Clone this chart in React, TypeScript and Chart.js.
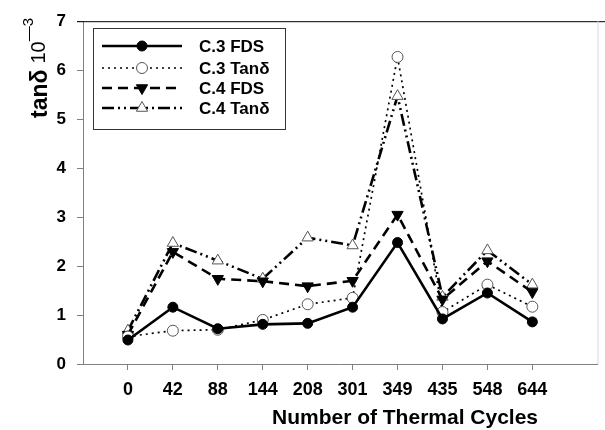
import React, { useEffect, useRef } from "react";
import { Chart, registerables } from "chart.js";

Chart.register(...registerables);

const cycles = ["0", "42", "88", "144", "208", "301", "349", "435", "548", "644"];
const c3Fds = [0.49, 1.16, 0.72, 0.81, 0.83, 1.16, 2.48, 0.92, 1.45, 0.86];
const c3Tan = [0.56, 0.68, 0.70, 0.90, 1.22, 1.35, 6.27, 1.06, 1.62, 1.17];
const c4Fds = [0.60, 2.29, 1.74, 1.69, 1.59, 1.70, 3.05, 1.32, 2.10, 1.47];
const c4Tan = [0.68, 2.47, 2.11, 1.74, 2.58, 2.42, 5.47, 1.37, 2.32, 1.62];
const yTicks = [0, 1, 2, 3, 4, 5, 6, 7];

const FONT = "'Liberation Sans', Arial, Helvetica, sans-serif";

type SeriesStyle = {
  label: string;
  data: number[];
  width: number;
  dash: number[];
  shape: "circle" | "triangle";
  rotation: number;
  fill: string;
  stroke: string;
  radius: number;
};

const series: SeriesStyle[] = [
  { label: "C.3 FDS", data: c3Fds, width: 2.6, dash: [], shape: "circle", rotation: 0, fill: "#000", stroke: "#000", radius: 5 },
  { label: "C.3 Tan\u03b4", data: c3Tan, width: 1.7, dash: [2, 4], shape: "circle", rotation: 0, fill: "#fff", stroke: "#555", radius: 5.5 },
  { label: "C.4 FDS", data: c4Fds, width: 2.6, dash: [10, 6], shape: "triangle", rotation: 180, fill: "#000", stroke: "#000", radius: 6.5 },
  { label: "C.4 Tan\u03b4", data: c4Tan, width: 2.6, dash: [12, 4, 2, 4, 2, 4], shape: "triangle", rotation: 0, fill: "#fff", stroke: "#555", radius: 6.5 },
];

function drawMarker(ctx: CanvasRenderingContext2D, s: SeriesStyle, x: number, y: number) {
  ctx.save();
  ctx.setLineDash([]);
  ctx.fillStyle = s.fill;
  ctx.strokeStyle = s.stroke;
  ctx.lineWidth = 1;
  ctx.beginPath();
  if (s.shape === "circle") {
    ctx.arc(x, y, s.radius, 0, Math.PI * 2);
  } else {
    const r = s.radius;
    let rad = (s.rotation * Math.PI) / 180;
    ctx.moveTo(x + Math.sin(rad) * r, y - Math.cos(rad) * r);
    rad += (2 * Math.PI) / 3;
    ctx.lineTo(x + Math.sin(rad) * r, y - Math.cos(rad) * r);
    rad += (2 * Math.PI) / 3;
    ctx.lineTo(x + Math.sin(rad) * r, y - Math.cos(rad) * r);
    ctx.closePath();
  }
  ctx.fill();
  ctx.stroke();
  ctx.restore();
}

const decorPlugin = {
  id: "decor",
  afterDraw(chart: any) {
    const ctx: CanvasRenderingContext2D = chart.ctx;
    const area = chart.chartArea;
    ctx.save();
    // top frame line
    ctx.strokeStyle = "#000";
    ctx.lineWidth = 1;
    ctx.beginPath();
    ctx.moveTo(77, area.top + 0.5);
    ctx.lineTo(605, area.top + 0.5);
    ctx.stroke();
    // right light border
    ctx.strokeStyle = "#d8d8d8";
    ctx.beginPath();
    ctx.moveTo(area.right + 0.5, area.top);
    ctx.lineTo(area.right + 0.5, area.bottom);
    ctx.stroke();

    // legend
    const lx = 93, ly = 28, lw = 192, lh = 101;
    ctx.fillStyle = "#fff";
    ctx.fillRect(lx, ly, lw, lh);
    ctx.strokeStyle = "#333";
    ctx.lineWidth = 1;
    ctx.strokeRect(lx + 0.5, ly + 0.5, lw, lh);
    const rows = [46, 68, 88, 108];
    series.forEach((s, i) => {
      const y = rows[i];
      ctx.save();
      ctx.strokeStyle = "#000";
      ctx.lineWidth = s.width;
      ctx.setLineDash(s.dash);
      ctx.beginPath();
      ctx.moveTo(102, y);
      ctx.lineTo(182, y);
      ctx.stroke();
      ctx.restore();
      drawMarker(ctx, s, 142, y);
      ctx.fillStyle = "#000";
      ctx.font = `bold 17px ${FONT}`;
      ctx.textAlign = "left";
      ctx.textBaseline = "middle";
      ctx.fillText(s.label, 199, y + 1);
    });

    // y title
    ctx.save();
    ctx.translate(47, 118);
    ctx.rotate(-Math.PI / 2);
    ctx.fillStyle = "#000";
    ctx.textAlign = "left";
    ctx.textBaseline = "alphabetic";
    ctx.font = `bold 23px ${FONT}`;
    ctx.fillText("tan\u03b4", 0, 0);
    let w = ctx.measureText("tan\u03b4").width + 6;
    ctx.font = `20px ${FONT}`;
    ctx.fillText("10", w, -2);
    w += ctx.measureText("10").width;
    ctx.font = `15px ${FONT}`;
    ctx.fillText("\u2014" + "3", w, -14);
    ctx.restore();

    // x title
    ctx.fillStyle = "#000";
    ctx.font = `bold 21px ${FONT}`;
    ctx.textAlign = "center";
    ctx.textBaseline = "alphabetic";
    ctx.fillText("Number of Thermal Cycles", 405, 424);
    ctx.restore();
  },
};

export default function App() {
  const ref = useRef<HTMLCanvasElement | null>(null);
  useEffect(() => {
    document.body.style.margin = "0";
    const canvas = ref.current;
    if (!canvas) return;
    const chart = new Chart(canvas, {
      type: "line",
      data: {
        datasets: series.map((s) => ({
          label: s.label,
          data: s.data.map((v, i) => ({ x: i, y: v })),
          borderColor: "#000",
          borderWidth: s.width,
          borderDash: s.dash,
          pointStyle: s.shape,
          pointRotation: s.rotation,
          pointRadius: s.radius,
          pointBackgroundColor: s.fill,
          pointBorderColor: s.stroke,
          pointBorderWidth: 1,
          tension: 0,
          fill: false,
        })),
      },
      options: {
        responsive: false,
        animation: false,
        events: [],
        layout: { padding: { top: 18, right: 1, left: 0, bottom: 0 } },
        plugins: { legend: { display: false }, tooltip: { enabled: false } },
        scales: {
          x: {
            type: "linear",
            min: -1,
            max: 10.45,
            afterBuildTicks: (scale: any) => {
              scale.ticks = cycles.map((_, i) => ({ value: i }));
            },
            afterFit: (scale: any) => {
              scale.height = 66;
            },
            ticks: {
              autoSkip: false,
              maxRotation: 0,
              padding: 9,
              color: "#000",
              font: { family: FONT, size: 18, weight: "bold" },
              callback: (v: any) => cycles[v as number] ?? "",
            },
            grid: { drawOnChartArea: false, drawTicks: true, tickLength: 6, color: "#808080" },
            border: { color: "#808080", width: 1 },
          },
          y: {
            min: 0,
            max: 7,
            afterBuildTicks: (scale: any) => {
              scale.ticks = yTicks.map((v) => ({ value: v }));
            },
            afterFit: (scale: any) => {
              scale.width = 83;
            },
            ticks: {
              padding: 11,
              color: "#000",
              font: { family: FONT, size: 17, weight: "bold" },
            },
            grid: { drawOnChartArea: false, drawTicks: true, tickLength: 6, color: "#808080" },
            border: { color: "#808080", width: 1 },
          },
        },
      },
      plugins: [decorPlugin],
    } as any);
    return () => chart.destroy();
  }, []);
  return (
    <div style={{ width: 605, height: 430, background: "#fff" }}>
      <canvas ref={ref} width={605} height={430} />
    </div>
  );
}
